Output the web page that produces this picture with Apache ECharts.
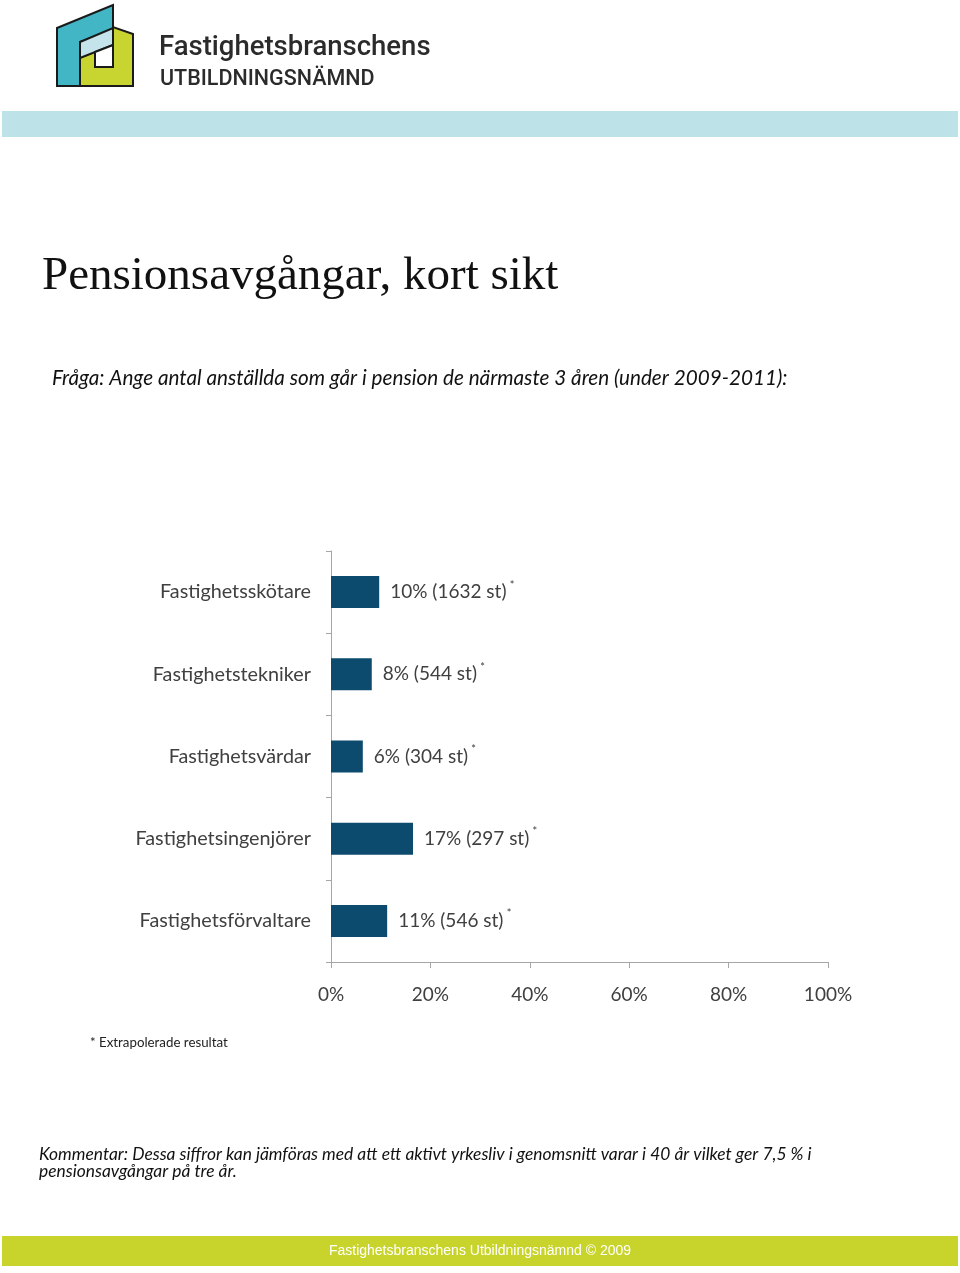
<!DOCTYPE html>
<html>
<head>
<meta charset="utf-8">
<script src="https://cdn.jsdelivr.net/npm/echarts@6/dist/echarts.min.js"></script>
<style>
  html, body { margin: 0; padding: 0; background: #fff; }
  #chart { width: 960px; height: 1273px; }
</style>
</head>
<body>
<div id="chart"></div>
<script>
// yrkesgrupper, uppifrån och ned
var categories = ['Fastighetsskötare', 'Fastighetstekniker', 'Fastighetsvärdar', 'Fastighetsingenjörer', 'Fastighetsförvaltare'];
// andel som går i pension (%), avläst från staplarna
var values = [9.7, 8.2, 6.4, 16.5, 11.3];
var pctLabels = ['10%', '8%', '6%', '17%', '11%'];
var counts = [1632, 544, 304, 297, 546];
var xTicks = [0, 20, 40, 60, 80, 100];

var textColor = '#404040';
var axisColor = '#a6a6a6';

var chart = echarts.init(document.getElementById('chart'));

var option = {
    backgroundColor: '#fff',
    animation: false,
    grid: {
        left: 331,
        right: 132,
        top: 551,
        bottom: 311
    },
    xAxis: {
        type: 'value',
        min: xTicks[0],
        max: xTicks[xTicks.length - 1],
        interval: 20,
        axisLine: { show: true, lineStyle: { color: axisColor, width: 1 } },
        axisTick: { show: true, length: 6, lineStyle: { color: axisColor } },
        splitLine: { show: false },
        axisLabel: {
            margin: 23,
            color: textColor,
            fontFamily: 'Lato',
            fontSize: 19,
            formatter: '{value}%'
        }
    },
    yAxis: {
        type: 'category',
        inverse: true,
        data: categories,
        axisLine: { show: true, lineStyle: { color: axisColor, width: 1 } },
        axisTick: { show: true, length: 5, lineStyle: { color: axisColor } },
        axisLabel: {
            margin: 20,
            color: textColor,
            fontFamily: 'Lato',
            fontSize: 19.8
        }
    },
    series: [{
        type: 'bar',
        data: values,
        barWidth: 32,
        itemStyle: { color: '#0c4a6e' },
        label: {
            show: true,
            position: 'right',
            distance: 11,
            formatter: function (p) {
                return '{a|' + pctLabels[p.dataIndex] + ' (' + counts[p.dataIndex] + ' st)} {s|*}';
            },
            rich: {
                a: { color: textColor, fontFamily: 'Lato', fontSize: 19 },
                s: { color: textColor, fontFamily: 'Lato', fontSize: 11, padding: [0, 0, 14, 0] }
            }
        }
    }],
    graphic: [
        // logga
        {
            type: 'polygon', z: 10,
            shape: { points: [[80, 50], [113, 27], [133, 34], [133, 86], [80, 86]] },
            style: { fill: '#c8d430', stroke: '#1a1a1a', lineWidth: 2 }
        },
        {
            type: 'polygon', z: 11,
            shape: { points: [[57, 28], [113, 5], [113, 30], [80, 42], [80, 86], [57, 86]] },
            style: { fill: '#43b6c6', stroke: '#1a1a1a', lineWidth: 2 }
        },
        {
            type: 'polygon', z: 12,
            shape: { points: [[80, 42], [113, 28], [113, 45], [80, 58]] },
            style: { fill: '#c4e3ea', stroke: '#1a1a1a', lineWidth: 2 }
        },
        {
            type: 'polygon', z: 12,
            shape: { points: [[95, 52], [113, 45], [113, 67], [95, 67]] },
            style: { fill: '#fff', stroke: '#1a1a1a', lineWidth: 2 }
        },
        {
            type: 'text', left: 159, top: 34, z: 10,
            style: { text: 'Fastighetsbranschens', fill: '#2b2b2b', font: '500 27.5px Roboto' }
        },
        {
            type: 'text', left: 160, top: 69, z: 10,
            style: { text: 'UTBILDNINGSNÄMND', fill: '#2b2b2b', font: '500 21.5px Roboto' }
        },
        // ljusblått band
        {
            type: 'rect', z: 5,
            shape: { x: 2, y: 111, width: 956, height: 26 },
            style: { fill: '#bde2e7' }
        },
        {
            type: 'text', left: 42, top: 253, z: 10,
            style: { text: 'Pensionsavgångar, kort sikt', fill: '#111', font: '47px "Liberation Serif"' }
        },
        {
            type: 'text', left: 52, top: 368, z: 10,
            style: {
                text: 'Fråga: Ange antal anställda som går i pension de närmaste 3 åren (under 2009-2011):',
                fill: '#111', font: 'italic 20.7px Lato'
            }
        },
        {
            type: 'text', left: 90, top: 1036, z: 10,
            style: { text: '* Extrapolerade resultat', fill: '#222', font: '13.3px Lato' }
        },
        {
            type: 'text', left: 39, top: 1146, z: 10,
            style: {
                text: 'Kommentar: Dessa siffror kan jämföras med att ett aktivt yrkesliv i genomsnitt varar i 40 år vilket ger 7,5 % i\npensionsavgångar på tre år.',
                fill: '#111', font: 'italic 17.4px Lato', lineHeight: 17
            }
        },
        // grönt sidfotsband
        {
            type: 'rect', z: 5,
            shape: { x: 2, y: 1236, width: 956, height: 30 },
            style: { fill: '#c8d42c' }
        },
        {
            type: 'text', left: 'center', top: 1244, z: 10,
            style: { text: 'Fastighetsbranschens Utbildningsnämnd © 2009', fill: '#fff', font: '14px "Liberation Sans"' }
        }
    ]
};

chart.setOption(option);
</script>
</body>
</html>
